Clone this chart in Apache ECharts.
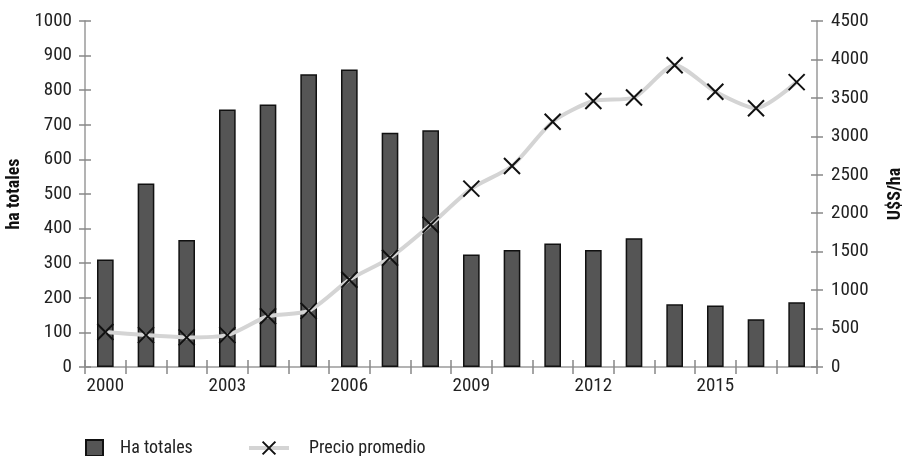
<!DOCTYPE html>
<html>
<head>
<meta charset="utf-8">
<script src="https://cdn.jsdelivr.net/npm/echarts@6/dist/echarts.min.js"></script>
<style>
html,body{margin:0;padding:0;background:#fff;}
#chart{width:903px;height:456px;}
</style>
</head>
<body>
<div id="chart"></div>
<script>
var years = ['2000','2001','2002','2003','2004','2005','2006','2007','2008','2009','2010','2011','2012','2013','2014','2015','2016','2017'];
var haTotales = [311, 530, 367, 744, 759, 846, 860, 677, 684, 325, 338, 357, 338, 372, 181, 178, 138, 187];
var precioPromedio = [455, 415, 385, 415, 660, 730, 1135, 1420, 1850, 2320, 2615, 3190, 3460, 3505, 3925, 3580, 3365, 3705];
var leftTicks = {min: 0, max: 1000, interval: 100};
var rightTicks = {min: 0, max: 4500, interval: 500};

var FONT = '"Liberation Sans Narrow", "Roboto Condensed", "Arial Narrow", Roboto, sans-serif';
var AX = '#9a9a9a';
var xMark = 'path://M0,0L10,10M10,0L0,10';

var chart = echarts.init(document.getElementById('chart'), null, {renderer: 'canvas'});

function plain(v) { return String(v); }

function yAx(t, pos, inside, show) {
  return {
    type: 'value', position: pos, min: t.min, max: t.max, interval: t.interval,
    axisLine: {show: show, lineStyle: {color: AX, width: 1.5}},
    axisTick: {show: true, inside: inside, length: 6, lineStyle: {color: '#888', width: 1.5}},
    axisLabel: {show: show, color: '#222', fontFamily: FONT, fontSize: 19, margin: 13, formatter: plain},
    splitLine: {show: false}
  };
}

var yLeft = yAx(leftTicks, 'left', false, true);
yLeft.name = 'ha totales';
yLeft.nameLocation = 'middle';
yLeft.nameRotate = 90;
yLeft.nameGap = 59;
yLeft.nameTextStyle = {fontFamily: FONT, fontWeight: 'bold', fontSize: 18, color: '#111'};

var yRight = yAx(rightTicks, 'right', false, true);
yRight.name = 'U$S/ha';
yRight.nameLocation = 'middle';
yRight.nameRotate = 90;
yRight.nameGap = 69;
yRight.nameTextStyle = {fontFamily: FONT, fontWeight: 'bold', fontSize: 18, color: '#111'};
yRight.axisLabel.margin = 14;

var yLeftIn = yAx(leftTicks, 'left', true, false);
var yRightIn = yAx(rightTicks, 'right', true, false);

function xAx(inside, show) {
  return {
    type: 'category', data: years, position: 'bottom', boundaryGap: true,
    axisLine: {show: show, lineStyle: {color: AX, width: 1.5}},
    axisTick: {show: true, inside: inside, interval: 0, length: 7, lineStyle: {color: '#888', width: 1.5}},
    axisLabel: {show: show, interval: 2, color: '#222', fontFamily: FONT, fontSize: 19, margin: 10},
    splitLine: {show: false}
  };
}

chart.setOption({
  animation: false,
  backgroundColor: '#ffffff',
  grid: {left: 85, right: 86, top: 21, bottom: 89, containLabel: false, outerBoundsMode: 'none'},
  legend: [
    {
      data: [{name: 'Ha totales', icon: 'rect'}], left: 80, top: 434, itemWidth: 17, itemHeight: 16,
      textStyle: {fontFamily: FONT, fontSize: 18, color: '#222', padding: [0, 0, 0, 12]},
      selectedMode: false
    },
    {
      data: ['Precio promedio'], left: 242, top: 434, itemWidth: 40, itemHeight: 16,
      lineStyle: {color: '#d4d4d4', width: 4},
      textStyle: {fontFamily: FONT, fontSize: 18, color: '#222', padding: [0, 0, 0, 15]},
      selectedMode: false
    }
  ],
  xAxis: [xAx(false, true), xAx(true, false)],
  yAxis: [yLeft, yRight, yLeftIn, yRightIn],
  series: [
    {
      name: 'Ha totales', type: 'bar', xAxisIndex: 0, yAxisIndex: 0,
      data: haTotales, barWidth: '41%',
      itemStyle: {color: '#555555', borderColor: '#111111', borderWidth: 1.5},
      emphasis: {disabled: true}
    },
    {
      name: 'Precio promedio', type: 'line', xAxisIndex: 0, yAxisIndex: 1,
      data: precioPromedio, smooth: 0.25,
      symbol: xMark, symbolSize: 16,
      lineStyle: {color: '#d4d4d4', width: 4},
      itemStyle: {color: 'rgba(0,0,0,0)', borderColor: '#111111', borderWidth: 2},
      emphasis: {disabled: true},
      z: 3
    }
  ]
});
</script>
</body>
</html>
